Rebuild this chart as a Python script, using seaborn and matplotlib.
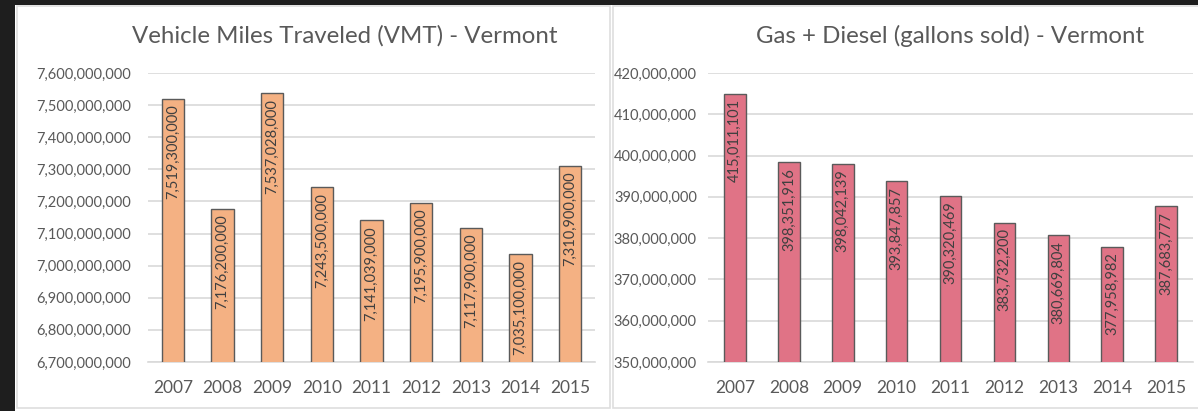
import matplotlib
matplotlib.use('Agg')
import matplotlib.pyplot as plt
import matplotlib.patches as mpatches
from matplotlib.ticker import FuncFormatter
import seaborn as sns
import pandas as pd

years = ['2007', '2008', '2009', '2010', '2011', '2012', '2013', '2014', '2015']
vmt = [7519300000, 7176200000, 7537028000, 7243500000, 7141039000,
       7195900000, 7117900000, 7035100000, 7310900000]
gallons = [415011101, 398351916, 398042139, 393847857, 390320469,
           383732200, 380669804, 377958982, 387683777]

sns.set_style('white')
plt.rcParams['font.family'] = ['Lato', 'DejaVu Sans']

txt = '#595959'
grid = '#d9d9d9'

fig = plt.figure(figsize=(11.98, 4.11), dpi=100)
fig.patch.set_facecolor('#1e1e1e')

# painéis brancos com moldura clara
H = 411.0
W = 1198.0
fig.patches.append(mpatches.Rectangle((15 / W, 0), 1, 406 / H, transform=fig.transFigure,
                                      facecolor='white', edgecolor='none', zorder=-6))
for x0, x1 in [(17, 610), (613, 1200)]:
    fig.patches.append(mpatches.Rectangle((x0 / W, 3 / H), (x1 - x0) / W, (405 - 3) / H,
                                          transform=fig.transFigure, facecolor='white',
                                          edgecolor='#dedede', linewidth=1.2, zorder=-5))

df1 = pd.DataFrame({'ano': years, 'valor': vmt})
df2 = pd.DataFrame({'ano': years, 'valor': gallons})

ax1 = fig.add_axes([148 / W, 1 - 362 / H, (595 - 148) / W, (362 - 73) / H])
ax2 = fig.add_axes([708 / W, 1 - 362 / H, (1193 - 708) / W, (362 - 73) / H])

configs = [
    (ax1, df1, '#F4B183', (6.7e9, 7.6e9), 1e8, 'Vehicle Miles Traveled (VMT) - Vermont', 345, 0.45, 12),
    (ax2, df2, '#E07386', (3.5e8, 4.2e8), 1e7, 'Gas + Diesel (gallons sold) - Vermont', 950, 0.40, 8),
]

for ax, df, cor, lim, step, titulo, tx, largura, pad in configs:
    sns.barplot(x='ano', y='valor', data=df, color=cor, width=largura,
                edgecolor='#5a5a5a', linewidth=1.0, saturation=1, ax=ax, zorder=3)
    ax.set_ylim(*lim)
    ticks = [lim[0] + i * step for i in range(int(round((lim[1] - lim[0]) / step)) + 1)]
    ax.set_yticks(ticks)
    ax.yaxis.set_major_formatter(FuncFormatter(lambda v, p: f'{v:,.0f}'))
    ax.grid(axis='y', color=grid, linewidth=1.2, zorder=0)
    ax.set_axisbelow(True)
    for s in ['top', 'right', 'left']:
        ax.spines[s].set_visible(False)
    ax.spines['bottom'].set_color(grid)
    ax.spines['bottom'].set_linewidth(1.2)
    ax.tick_params(axis='y', length=0, pad=pad, labelsize=10.5, labelcolor=txt)
    ax.tick_params(axis='x', length=0, pad=13, labelsize=12.5, labelcolor=txt)
    ax.set_xlabel('')
    ax.set_ylabel('')
    ax.patch.set_alpha(0)
    for i, v in enumerate(df['valor']):
        ax.annotate(f'{v:,.0f}', (i, v), xytext=(0, -4), textcoords='offset points',
                    rotation=90, ha='center', va='top', fontsize=10.5, color='#404040', zorder=5)
    fig.text(tx / W, 1 - 36 / H, titulo, ha='center', va='center', fontsize=17.3, color=txt)

fig.savefig('out.png', dpi=100, facecolor=fig.get_facecolor())
